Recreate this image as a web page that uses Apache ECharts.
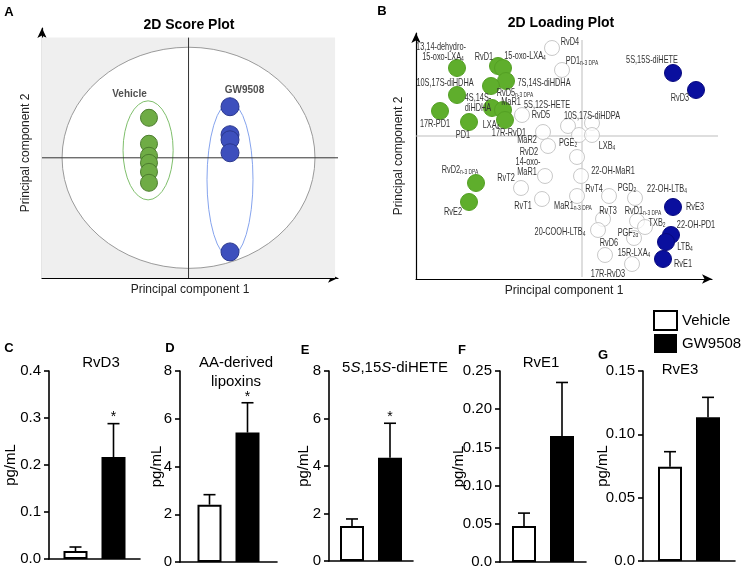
<!DOCTYPE html>
<html><head><meta charset="utf-8">
<script src="https://cdn.jsdelivr.net/npm/echarts@6/dist/echarts.min.js"></script>
<style>html,body{margin:0;padding:0;background:#fff}#c{width:742px;height:572px}</style>
</head><body><div id="c"></div>
<script>
// ---------- Panel A: 2D score plot ----------
const scoreVehicleX = [-2.7, -2.7, -2.7, -2.7, -2.7, -2.7];
const scoreVehicleY = [3.33, 1.17, 0.17, -0.42, -1.17, -2.08];
const scoreGwX = [2.83, 2.83, 2.83, 2.83, 2.83];
const scoreGwY = [4.25, 1.92, 1.5, 0.42, -7.83];
// confidence ellipses [cx, cy, rx, ry]: overall, Vehicle, GW9508
const scoreEllipses = [[0, 0, 8.63, 9.2], [-2.76, 0.62, 1.71, 4.12], [2.83, -1.83, 1.57, 6.42]];
const scoreGroupNames = ['Vehicle', 'GW9508'];
const scoreGroupLabelX = [-4.03, 3.82];
const scoreGroupLabelY = [5.29, 5.63];

// ---------- Panel B: 2D loading plot ----------
const loadVehX = [-0.3125, -0.21, -0.1975, -0.19, -0.2275, -0.3125, -0.225, -0.1975, -0.1925, -0.355, -0.2825, -0.265, -0.2825];
const loadVehY = [0.17, 0.175, 0.17, 0.1375, 0.125, 0.1025, 0.07, 0.065, 0.04, 0.0625, 0.035, -0.1175, -0.165];
const loadGwX = [0.2275, 0.285, 0.2275, 0.2225, 0.21, 0.2025];
const loadGwY = [0.1575, 0.115, -0.1775, -0.2475, -0.265, -0.3075];
const loadOtherX = [-0.075, -0.05, -0.15, -0.0975, -0.035, 0.025, -0.0075, 0.025, -0.085, -0.0125, -0.0925, -0.0025,
  -0.1525, -0.1, -0.0125, 0.0675, 0.1325, 0.0525, 0.1375, 0.1575, 0.04, 0.13, 0.0575, 0.125];
const loadOtherY = [0.22, 0.165, 0.0525, 0.01, 0.025, 0.0325, 0.0025, 0.0025, -0.025, -0.0525, -0.1, -0.1,
  -0.13, -0.1575, -0.15, -0.15, -0.155, -0.2075, -0.2125, -0.2275, -0.235, -0.255, -0.2975, -0.32];
const loadLabelText = ['13,14-dehydro-', '15-oxo-LXA{s|4}', 'RvD1', '15-oxo-LXA{s|4}', 'RvD4', 'PD1{s|n-3 DPA}',
  '5S,15S-diHETE', 'RvD3', '10S,17S-diHDHA', '7S,14S-diHDHA', 'RvD5{s|n-3 DPA}', '4S,14S-', 'diHDHA', 'MaR1',
  '5S,12S-HETE', '17R-PD1', 'PD1', 'LXA{s|4}', '17R-RvD1', 'RvD5', '10S,17S-diHDPA', 'MaR2', 'PGE{s|2}', 'LXB{s|4}',
  'RvD2', '14-oxo-', 'MaR1', 'RvD2{s|n-3 DPA}', 'RvT2', 'RvT1', 'RvE2', '22-OH-MaR1', 'RvT4', 'PGD{s|2}',
  '22-OH-LTB{s|4}', 'MaR1{s|n-3 DPA}', 'RvT3', 'RvD1{s|n-3 DPA}', 'RvE3', 'TXB{s|2}', '22-OH-PD1',
  '20-COOH-LTB{s|4}', 'PGF{s|2α}', 'RvD6', 'LTB{s|4}', '15R-LXA{s|4}', 'RvE1', '17R-RvD3'];
const loadLabelX = [-0.3525, -0.3475, -0.245, -0.1425, -0.03, 0, 0.175, 0.245, -0.3425, -0.095, -0.1675, -0.26, -0.26, -0.1775,
  -0.0875, -0.3675, -0.2975, -0.2275, -0.1825, -0.1025, 0.025, -0.1375, -0.035, 0.0625,
  -0.1325, -0.135, -0.1375, -0.305, -0.19, -0.1475, -0.3225, 0.0775, 0.03, 0.1125,
  0.2125, -0.0225, 0.065, 0.1525, 0.2825, 0.1875, 0.285, -0.055, 0.115, 0.0675, 0.2575, 0.13, 0.2525, 0.065];
const loadLabelY = [0.2225, 0.1975, 0.1975, 0.2, 0.235, 0.1875, 0.19, 0.095, 0.1325, 0.1325, 0.1075, 0.095, 0.07, 0.085,
  0.0775, 0.03, 0.0025, 0.0275, 0.0075, 0.0525, 0.05, -0.01, -0.0175, -0.025,
  -0.04, -0.065, -0.09, -0.085, -0.105, -0.175, -0.19, -0.0875, -0.1325, -0.13,
  -0.1325, -0.175, -0.1875, -0.1875, -0.1775, -0.2175, -0.2225, -0.24, -0.2425, -0.2675, -0.2775, -0.2925, -0.32, -0.345];

// ---------- Panels C-G: bar charts ----------
const barTitles = ['RvD3', 'AA-derived\nlipoxins', '5{i|S},15{i|S}-diHETE', 'RvE1', 'RvE3'];
const vehicleMean = [0.017, 2.4, 1.47, 0.047, 0.0745];
const vehicleSEM = [0.0085, 0.42, 0.3, 0.017, 0.0118];
const gwMean = [0.217, 5.42, 4.35, 0.165, 0.1134];
const gwSEM = [0.071, 1.25, 1.45, 0.07, 0.0158];
const significant = [true, true, true, false, false];
const yMax = [0.4, 8, 8, 0.25, 0.15];
const yStep = [0.1, 2, 2, 0.05, 0.05];
const yDecimals = [1, 0, 0, 2, 2];

// ---------- layout / style ----------
const FONT = 'Liberation Sans, Arial, Helvetica, sans-serif';
const barGrids = [
  {left: 49, top: 371, width: 91, height: 188},
  {left: 180, top: 371, width: 97, height: 191},
  {left: 329, top: 371, width: 84, height: 190},
  {left: 500, top: 371, width: 86, height: 191},
  {left: 643, top: 371, width: 92, height: 190}
];
const barNameGap = [31, 16, 18, 34, 33];
const titlePos = [[101, 363], [236, 372], [395, 368], [541, 363], [680, 370]];
const BAR_W = 24, GAP_PX = 14, OFF = (BAR_W + GAP_PX) / 2;

function segItem(color, width) {
  return function (params, api) {
    const p1 = api.coord([api.value(0), api.value(1)]);
    const p2 = api.coord([api.value(2), api.value(3)]);
    return {type: 'line', shape: {x1: p1[0], y1: p1[1], x2: p2[0], y2: p2[1]}, style: {stroke: color, lineWidth: width}};
  };
}
function rectItem(color) {
  return function (params, api) {
    const p1 = api.coord([api.value(0), api.value(1)]);
    const p2 = api.coord([api.value(2), api.value(3)]);
    return {type: 'rect', shape: {x: Math.min(p1[0], p2[0]), y: Math.min(p1[1], p2[1]), width: Math.abs(p2[0] - p1[0]), height: Math.abs(p2[1] - p1[1])}, style: {fill: color}};
  };
}
const ellStroke = ['#9a9a9a', '#7fbf6c', '#86a4ee'];
const ellFill = ['#ffffff', 'none', 'none'];
function ellipseItem(params, api) {
  const c = api.coord([api.value(0), api.value(1)]);
  const s = api.size([api.value(2), api.value(3)]);
  const rx = s[0], ry = s[1];
  const d = 'M' + (c[0] - rx) + ' ' + c[1] + ' A' + rx + ' ' + ry + ' 0 1 0 ' + (c[0] + rx) + ' ' + c[1] +
    ' A' + rx + ' ' + ry + ' 0 1 0 ' + (c[0] - rx) + ' ' + c[1] + ' Z';
  return {type: 'path', shape: {pathData: d}, style: {fill: ellFill[params.dataIndex], stroke: ellStroke[params.dataIndex], lineWidth: 1}};
}
// condensed text labels (the original uses a narrow typeface)
function loadLabelItem(params, api) {
  const p = api.coord([api.value(0), api.value(1)]);
  return {type: 'text', x: p[0], y: p[1], scaleX: 0.7, scaleY: 1, silent: true,
    style: {text: loadLabelText[params.dataIndex], align: 'center', verticalAlign: 'middle',
      textAlign: 'center', textVerticalAlign: 'middle', fontSize: 10.5, fontFamily: FONT, fill: '#333',
      rich: {s: {fontSize: 7, fontFamily: FONT, fill: '#333', padding: [5, 0, 0, 0]}}}};
}
function errItem(offset) {
  return function (params, api) {
    const mean = api.value(1), err = api.value(2);
    const b = api.coord([0, mean]);
    const t = api.coord([0, mean + err]);
    const x = b[0] + offset;
    const ch = [
      {type: 'line', shape: {x1: x, y1: b[1], x2: x, y2: t[1]}, style: {stroke: '#000', lineWidth: 1.6}},
      {type: 'line', shape: {x1: x - 6, y1: t[1], x2: x + 6, y2: t[1]}, style: {stroke: '#000', lineWidth: 1.6}}
    ];
    if (api.value(3)) {
      ch.push({type: 'text', x: x, y: t[1] + 1, style: {text: '*', align: 'center', verticalAlign: 'bottom', textAlign: 'center', textVerticalAlign: 'bottom', fontSize: 14, fontFamily: FONT, fill: '#000'}});
    }
    return {type: 'group', children: ch};
  };
}
function zip(xs, ys) { return xs.map((v, i) => [v, ys[i]]); }

const grids = [
  {left: 42, top: 28, width: 296, height: 250},
  {left: 416, top: 33, width: 296, height: 246}
].concat(barGrids).map(g => Object.assign({containLabel: false, outerBoundsMode: 'none'}, g));

function pcaAxis(gi, min, max, name, gap) {
  return {
    gridIndex: gi, type: 'value', min: min, max: max,
    axisLine: {show: true, onZero: false, symbol: ['none', 'arrow'], symbolSize: [7, 10], lineStyle: {color: '#000', width: 1.2}},
    axisTick: {show: false}, axisLabel: {show: false}, splitLine: {show: false},
    name: name, nameLocation: 'middle', nameGap: gap, nameMoveOverlap: false,
    nameTextStyle: {fontSize: 12, color: '#222', fontFamily: FONT}
  };
}
const xAxes = [
  pcaAxis(0, -10, 10.2, 'Principal component 1', 6),
  pcaAxis(1, -0.415, 0.325, 'Principal component 1', 6)
];
const yAxes = [
  pcaAxis(0, -10, 10.8, 'Principal component 2', 10),
  pcaAxis(1, -0.3575, 0.2575, 'Principal component 2', 11)
];
barGrids.forEach((g, i) => {
  xAxes.push({gridIndex: 2 + i, type: 'category', data: [''],
    axisLine: {show: true, lineStyle: {color: '#000', width: 1.6}}, axisTick: {show: false}, axisLabel: {show: false}, splitLine: {show: false}});
  yAxes.push({gridIndex: 2 + i, type: 'value', min: 0, max: yMax[i], interval: yStep[i],
    axisLine: {show: true, lineStyle: {color: '#000', width: 1.6}},
    axisTick: {show: true, length: 5, lineStyle: {color: '#000', width: 1.6}},
    axisLabel: {fontSize: 15, color: '#000', margin: 8, fontFamily: FONT,
      formatter: v => (v === 0 && yDecimals[i] > 0) ? '0.0' : v.toFixed(yDecimals[i])},
    splitLine: {show: false},
    name: 'pg/mL', nameLocation: 'middle', nameGap: barNameGap[i], nameMoveOverlap: false,
    nameTextStyle: {fontSize: 15, color: '#000', fontFamily: FONT}});
});

const series = [
  // Panel A
  {type: 'custom', name: 'bgA', xAxisIndex: 0, yAxisIndex: 0, z: 1, silent: true, clip: false,
    renderItem: rectItem('#efefef'), data: [[-10, -10, 10, 10]]},
  {type: 'custom', name: 'ellipses', xAxisIndex: 0, yAxisIndex: 0, z: 2, silent: true, clip: false,
    renderItem: ellipseItem, data: scoreEllipses},
  {type: 'custom', name: 'crossA', xAxisIndex: 0, yAxisIndex: 0, z: 3, silent: true, clip: false,
    renderItem: segItem('#333', 1), data: [[0, -10, 0, 10], [-10, 0, 10.2, 0]]},
  {type: 'scatter', name: 'Vehicle scores', xAxisIndex: 0, yAxisIndex: 0, z: 4, silent: true,
    symbolSize: 17, itemStyle: {color: '#6fac45', borderColor: '#4c7d2e', borderWidth: 1, opacity: 1},
    data: zip(scoreVehicleX, scoreVehicleY)},
  {type: 'scatter', name: 'GW9508 scores', xAxisIndex: 0, yAxisIndex: 0, z: 4, silent: true,
    symbolSize: 18, itemStyle: {color: '#3d4fbd', borderColor: '#2a378e', borderWidth: 1, opacity: 1},
    data: zip(scoreGwX, scoreGwY)},
  {type: 'scatter', name: 'score groups', xAxisIndex: 0, yAxisIndex: 0, z: 5, silent: true, symbolSize: 0,
    label: {show: true, position: 'inside', formatter: '{b}', fontSize: 10, fontWeight: 'bold', color: '#222', fontFamily: FONT},
    data: scoreGroupNames.map((n, i) => ({name: n, value: [scoreGroupLabelX[i], scoreGroupLabelY[i]]}))},
  // Panel B
  {type: 'custom', name: 'crossB', xAxisIndex: 1, yAxisIndex: 1, z: 1, silent: true, clip: false,
    renderItem: segItem('#bdbdbd', 1), data: [[0, -0.3525, 0, 0.24], [-0.415, 0, 0.34, 0]]},
  {type: 'scatter', name: 'other loadings', xAxisIndex: 1, yAxisIndex: 1, z: 2, silent: true,
    symbolSize: 15, itemStyle: {color: 'rgba(255,255,255,0.7)', borderColor: '#c9c9c9', borderWidth: 1, opacity: 1},
    data: zip(loadOtherX, loadOtherY)},
  {type: 'scatter', name: 'vehicle loadings', xAxisIndex: 1, yAxisIndex: 1, z: 3, silent: true,
    symbolSize: 17, itemStyle: {color: '#5fae2c', borderColor: '#54a024', borderWidth: 1, opacity: 1},
    data: zip(loadVehX, loadVehY)},
  {type: 'scatter', name: 'gw loadings', xAxisIndex: 1, yAxisIndex: 1, z: 3, silent: true,
    symbolSize: 17, itemStyle: {color: '#0a0f9e', borderColor: '#08097f', borderWidth: 1, opacity: 1},
    data: zip(loadGwX, loadGwY)},
  {type: 'custom', name: 'loading labels', xAxisIndex: 1, yAxisIndex: 1, z: 5, silent: true, clip: false,
    renderItem: loadLabelItem, data: zip(loadLabelX, loadLabelY)}
];
barGrids.forEach((g, i) => {
  const ax = 2 + i;
  series.push({type: 'bar', name: 'Vehicle', xAxisIndex: ax, yAxisIndex: ax, z: 2, silent: true,
    barWidth: BAR_W, barGap: (GAP_PX / BAR_W * 100) + '%',
    itemStyle: {color: '#fff', borderColor: '#000', borderWidth: 2}, data: [vehicleMean[i]]});
  series.push({type: 'bar', name: 'GW9508', xAxisIndex: ax, yAxisIndex: ax, z: 2, silent: true,
    barWidth: BAR_W, barGap: (GAP_PX / BAR_W * 100) + '%',
    itemStyle: {color: '#000', borderColor: '#000', borderWidth: 0}, data: [gwMean[i]]});
  series.push({type: 'custom', name: 'err v' + i, xAxisIndex: ax, yAxisIndex: ax, z: 3, silent: true, clip: false,
    renderItem: errItem(-OFF), data: [[0, vehicleMean[i], vehicleSEM[i], 0]]});
  series.push({type: 'custom', name: 'err g' + i, xAxisIndex: ax, yAxisIndex: ax, z: 3, silent: true, clip: false,
    renderItem: errItem(OFF), data: [[0, gwMean[i], gwSEM[i], significant[i] ? 1 : 0]]});
});

function txt(text, x, y, size, weight, extra) {
  return {type: 'text', x: x, y: y, silent: true, style: Object.assign({
    text: text, align: 'center', verticalAlign: 'middle', textAlign: 'center', textVerticalAlign: 'middle',
    fontSize: size, fontWeight: weight || 'normal', fontFamily: FONT, fill: '#000'}, extra || {})};
}
const graphics = [
  txt('A', 9, 12, 13, 'bold'), txt('B', 382, 11, 13, 'bold'),
  txt('C', 9, 348, 13, 'bold'), txt('D', 170, 348, 13, 'bold'), txt('E', 305, 350, 13, 'bold'),
  txt('F', 462, 350, 13, 'bold'), txt('G', 603, 355, 13, 'bold'),
  txt('2D Score Plot', 189, 25, 14, 'bold'), txt('2D Loading Plot', 561, 23, 14, 'bold')
];
barTitles.forEach((t, i) => {
  graphics.push(txt(t, titlePos[i][0], titlePos[i][1], 15, 'normal',
    {lineHeight: 19, rich: {i: {fontStyle: 'italic', fontSize: 15, fontFamily: FONT, fill: '#000'}}}));
});

const chart = echarts.init(document.getElementById('c'), null, {renderer: 'canvas'});
chart.setOption({
  animation: false,
  backgroundColor: '#fff',
  textStyle: {fontFamily: FONT},
  grid: grids,
  xAxis: xAxes,
  yAxis: yAxes,
  legend: {data: ['Vehicle', 'GW9508'], left: 653, top: 310, orient: 'vertical', icon: 'rect',
    itemWidth: 23, itemHeight: 19, itemGap: 3, padding: 0, selectedMode: false,
    textStyle: {fontSize: 15, color: '#000', fontFamily: FONT}},
  tooltip: {show: false},
  series: series,
  graphic: {elements: graphics}
});
</script></body></html>
